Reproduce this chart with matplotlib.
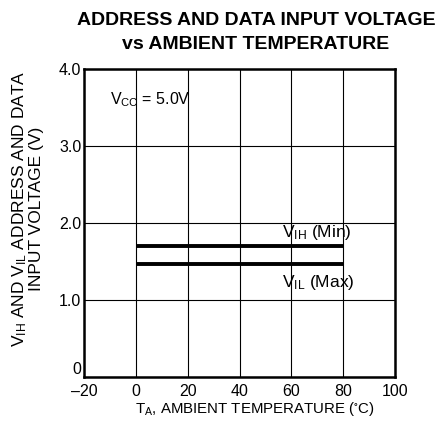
import matplotlib
matplotlib.use("Agg")
import matplotlib.pyplot as plt

plt.rcParams['font.family'] = ['Liberation Sans', 'DejaVu Sans']
plt.rcParams['mathtext.default'] = 'regular'

temps = [0, 80]
vih_min = [1.70, 1.70]
vil_max = [1.47, 1.47]
xticks = [-20, 0, 20, 40, 60, 80, 100]
yticks = [0, 1.0, 2.0, 3.0, 4.0]
ytick_labels = ['0', '1.0', '2.0', '3.0', '4.0']

fig = plt.figure(figsize=(4.43, 4.22), dpi=100)
ax = fig.add_axes([0.19, 0.107, 0.702, 0.729])

ax.plot(temps, vih_min, color='black', lw=2.8, solid_capstyle='butt')
ax.plot(temps, vil_max, color='black', lw=2.8, solid_capstyle='butt')

ax.set_xlim(-20, 100)
ax.set_ylim(0, 4.0)
ax.set_xticks(xticks)
ax.set_xticklabels([str(t).replace('-', '\u2013') for t in xticks])
ax.set_yticks(yticks)
ax.set_yticklabels(ytick_labels)
ax.tick_params(length=0, labelsize=11.5)
ax.tick_params(axis='x', pad=5)
ax.tick_params(axis='y', pad=2)
for lbl in ax.get_yticklabels():
    lbl.set_verticalalignment('center_baseline')
ax.get_yticklabels()[0].set_verticalalignment('bottom')
ax.grid(True, color='black', lw=0.8)
for s in ax.spines.values():
    s.set_linewidth(1.8)

ax.text(-10, 3.6, r'V$_{CC}$ = 5.0V', fontsize=11.5, va='center', ha='left')
ax.text(56.5, 1.88, r'V$_{IH}$ (Min)', fontsize=12.5, va='center', ha='left')
ax.text(56.5, 1.23, r'V$_{IL}$ (Max)', fontsize=12.5, va='center', ha='left')

ax.set_xlabel(r'T$_A$, AMBIENT TEMPERATURE ($^{\circ}$C)', fontsize=10.8)
ax.xaxis.set_label_coords(0.55, -0.075)
ax.set_ylabel('V$_{IH}$ AND V$_{IL}$ ADDRESS AND DATA\nINPUT VOLTAGE (V)', fontsize=12.5, linespacing=1.0)
ax.yaxis.set_label_coords(-0.13, 0.545)

fig.text(0.578, 0.972, 'ADDRESS AND DATA INPUT VOLTAGE\nvs AMBIENT TEMPERATURE',
         ha='center', va='top', fontsize=14, fontweight='bold', linespacing=1.55)

fig.savefig('out.png', dpi=100)
